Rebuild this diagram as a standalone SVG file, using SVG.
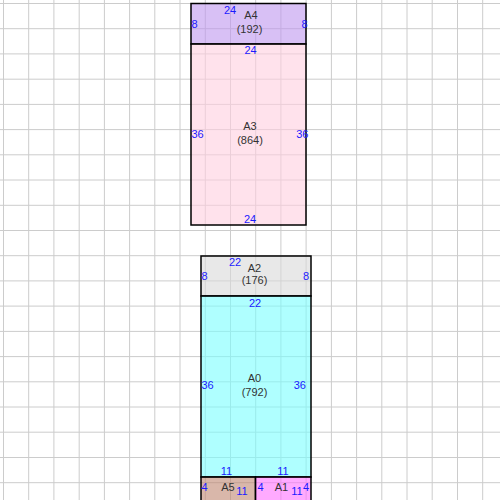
<svg xmlns="http://www.w3.org/2000/svg" width="500" height="500" viewBox="0 0 500 500">
<style>
.grid{stroke:#cccccc;stroke-width:1;fill:none}
.box{stroke:#000;stroke-width:1.5;fill-opacity:0.6}
.lbl{font-family:"Liberation Sans",Arial,sans-serif;font-size:11px;fill:#333;text-anchor:middle}
.dim{font-family:"Liberation Sans",Arial,sans-serif;font-size:11px;fill:#1a1aff}
.m{text-anchor:middle}
.e{text-anchor:end}
</style>
<rect width="500" height="500" fill="#fff"/>
<path class="grid" d="M3.5 0V500M28.7 0V500M53.9 0V500M79.2 0V500M104.4 0V500M129.6 0V500M154.8 0V500M180 0V500M205.3 0V500M230.5 0V500M255.7 0V500M280.9 0V500M306.1 0V500M331.4 0V500M356.6 0V500M381.8 0V500M407 0V500M432.2 0V500M457.5 0V500M482.7 0V500M0 3.5H500M0 28.7H500M0 53.9H500M0 79.2H500M0 104.4H500M0 129.6H500M0 154.8H500M0 180H500M0 205.3H500M0 230.5H500M0 255.7H500M0 280.9H500M0 306.1H500M0 331.4H500M0 356.6H500M0 381.8H500M0 407H500M0 432.2H500M0 457.5H500M0 482.7H500"/>
<g id="connectors"></g>
<g id="A4">
<rect class="box" x="191" y="3.5" width="115" height="40.5" fill="#be96ee"/>
<text class="lbl" x="251" y="19">A4</text>
<text class="lbl" x="249.5" y="33">(192)</text>
<text class="dim m" x="230" y="14">24</text>
<text class="dim" x="191.5" y="27.5">8</text>
<text class="dim e" x="307.5" y="27.5">8</text>
</g>
<g id="A3">
<rect class="box" x="191" y="44" width="115" height="181" fill="#ffcfdf"/>
<text class="lbl" x="250" y="129.5">A3</text>
<text class="lbl" x="250" y="143.5">(864)</text>
<text class="dim m" x="250.5" y="54">24</text>
<text class="dim m" x="250" y="222.5">24</text>
<text class="dim" x="191.5" y="137.5">36</text>
<text class="dim e" x="308.5" y="137.5">36</text>
</g>
<g id="A2">
<rect class="box" x="201" y="256" width="110" height="40" fill="#d9d9d9"/>
<text class="lbl" x="254.5" y="272">A2</text>
<text class="lbl" x="254.5" y="283.5">(176)</text>
<text class="dim m" x="235" y="266">22</text>
<text class="dim" x="201.5" y="280">8</text>
<text class="dim e" x="309" y="280">8</text>
</g>
<g id="A0">
<rect class="box" x="201" y="296" width="110" height="181" fill="#7affff"/>
<text class="lbl" x="254.5" y="382">A0</text>
<text class="lbl" x="254.5" y="395.5">(792)</text>
<text class="dim m" x="255" y="306.5">22</text>
<text class="dim" x="201.5" y="389">36</text>
<text class="dim e" x="306" y="389">36</text>
<text class="dim m" x="226.5" y="474.5">11</text>
<text class="dim m" x="283" y="474.5">11</text>
</g>
<g id="A5">
<rect class="box" x="201" y="477" width="54.5" height="30" fill="#c08771"/>
<text class="lbl" x="228" y="491">A5</text>
<text class="dim" x="201.5" y="491">4</text>
<text class="dim m" x="242" y="494.5">11</text>
</g>
<g id="A1">
<rect class="box" x="255.5" y="477" width="55.5" height="30" fill="#ff71ff"/>
<text class="lbl" x="281.5" y="491">A1</text>
<text class="dim" x="257.5" y="491">4</text>
<text class="dim m" x="297" y="494.5">11</text>
<text class="dim e" x="309" y="491">4</text>
</g>
</svg>
